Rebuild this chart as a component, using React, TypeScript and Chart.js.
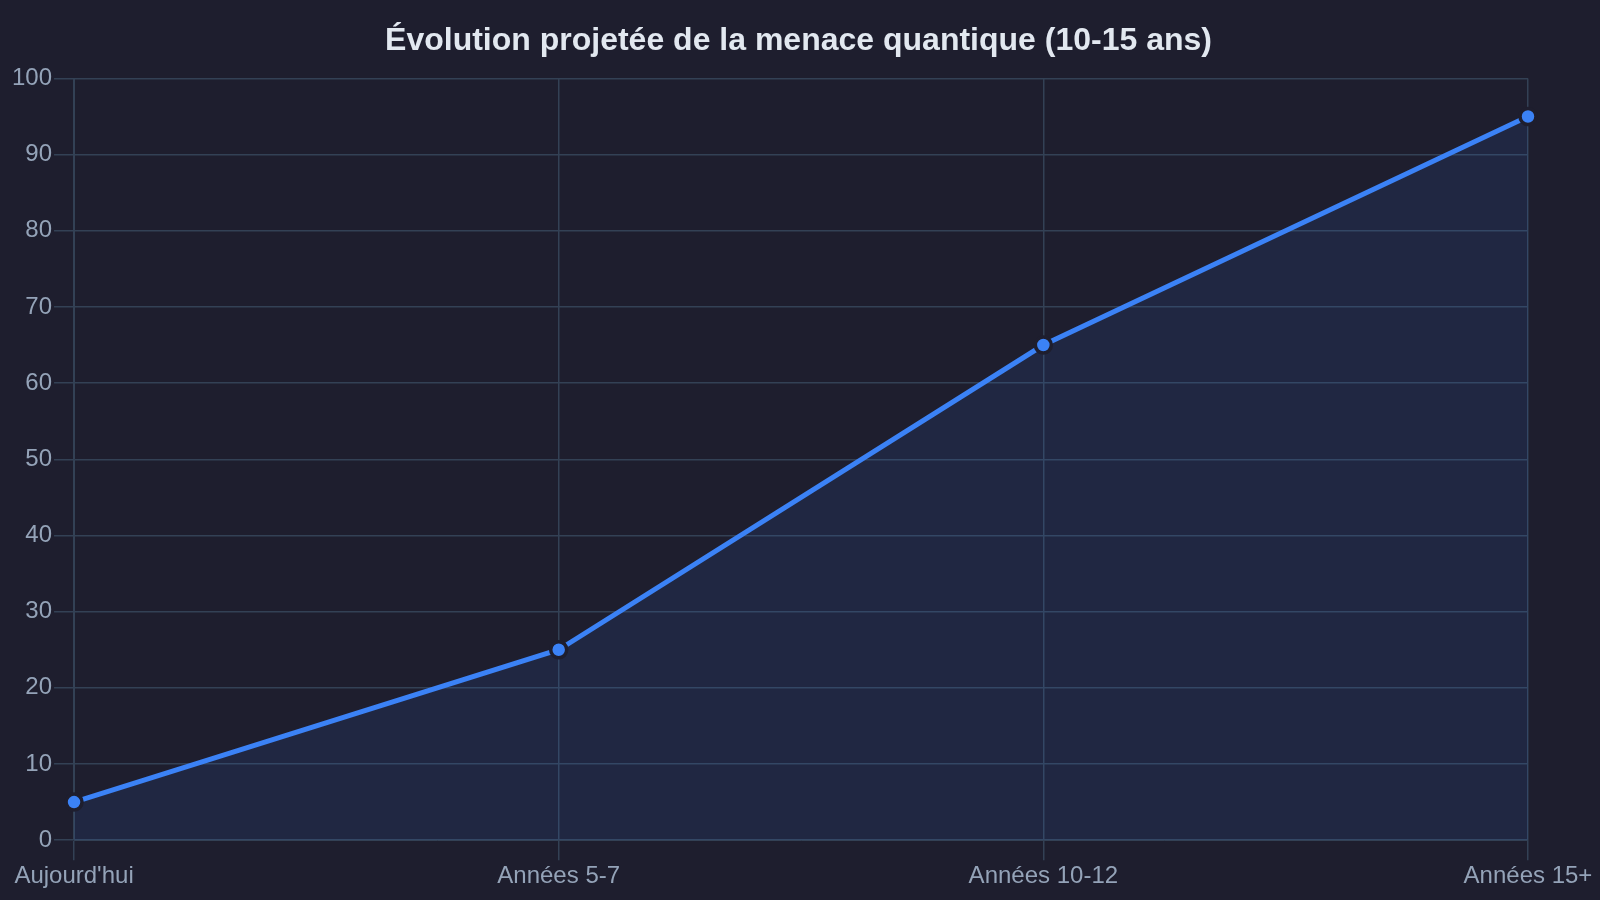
import React, { useEffect, useRef } from "react";
import { Chart, registerables } from "chart.js";

Chart.register(...registerables);

const categories = ["Aujourd'hui", "Années 5-7", "Années 10-12", "Années 15+"];
const threatLevel = [5, 25, 65, 95];
const titleText = "Évolution projetée de la menace quantique (10-15 ans)";

export default function App() {
  const ref = useRef<HTMLCanvasElement | null>(null);
  useEffect(() => {
    document.body.style.margin = "0";
    document.body.style.background = "#1e1e2e";
    const ctx = ref.current!;
    const chart = new Chart(ctx, {
      type: "line",
      data: {
        labels: categories,
        datasets: [
          {
            label: "Menace",
            data: threatLevel,
            borderColor: "#3b82f6",
            backgroundColor: "rgba(59,130,246,0.1)",
            borderWidth: 5,
            fill: true,
            tension: 0,
            pointRadius: 8,
            pointBackgroundColor: "#3b82f6",
            pointBorderColor: "#1e1e2e",
            pointBorderWidth: 3.5,
          },
        ],
      },
      options: {
        animation: false,
        responsive: true,
        maintainAspectRatio: false,
        layout: { padding: { left: 10, right: 13, top: 8, bottom: 7 } },
        plugins: {
          legend: { display: false },
          tooltip: { enabled: false },
          title: {
            display: true,
            text: titleText,
            color: "#e2e8f0",
            font: { family: "'Liberation Sans', Arial, sans-serif", size: 32, weight: "bold" },
            padding: { top: 14, bottom: 18 },
          },
        },
        scales: {
          x: {
            afterFit: (scale: any) => {
              scale.paddingRight = Math.max(scale.paddingRight, 72);
            },
            grid: { color: "#334155", lineWidth: 1.5, tickLength: 20 },
            border: { color: "#334155" },
            ticks: {
              color: "#94a3b8",
              font: { family: "'Liberation Sans', Arial, sans-serif", size: 24 },
              maxRotation: 0,
              padding: 2,
            },
          },
          y: {
            min: 0,
            max: 100,
            grid: { color: "#334155", lineWidth: 1.5, tickLength: 20 },
            border: { color: "#334155" },
            ticks: {
              stepSize: 10,
              color: "#94a3b8",
              font: { family: "'Liberation Sans', Arial, sans-serif", size: 24 },
              padding: 2,
            },
          },
        },
      },
    });
    return () => chart.destroy();
  }, []);
  return (
    <div style={{ width: "1600px", height: "900px", background: "#1e1e2e", position: "relative" }}>
      <canvas ref={ref} />
    </div>
  );
}
